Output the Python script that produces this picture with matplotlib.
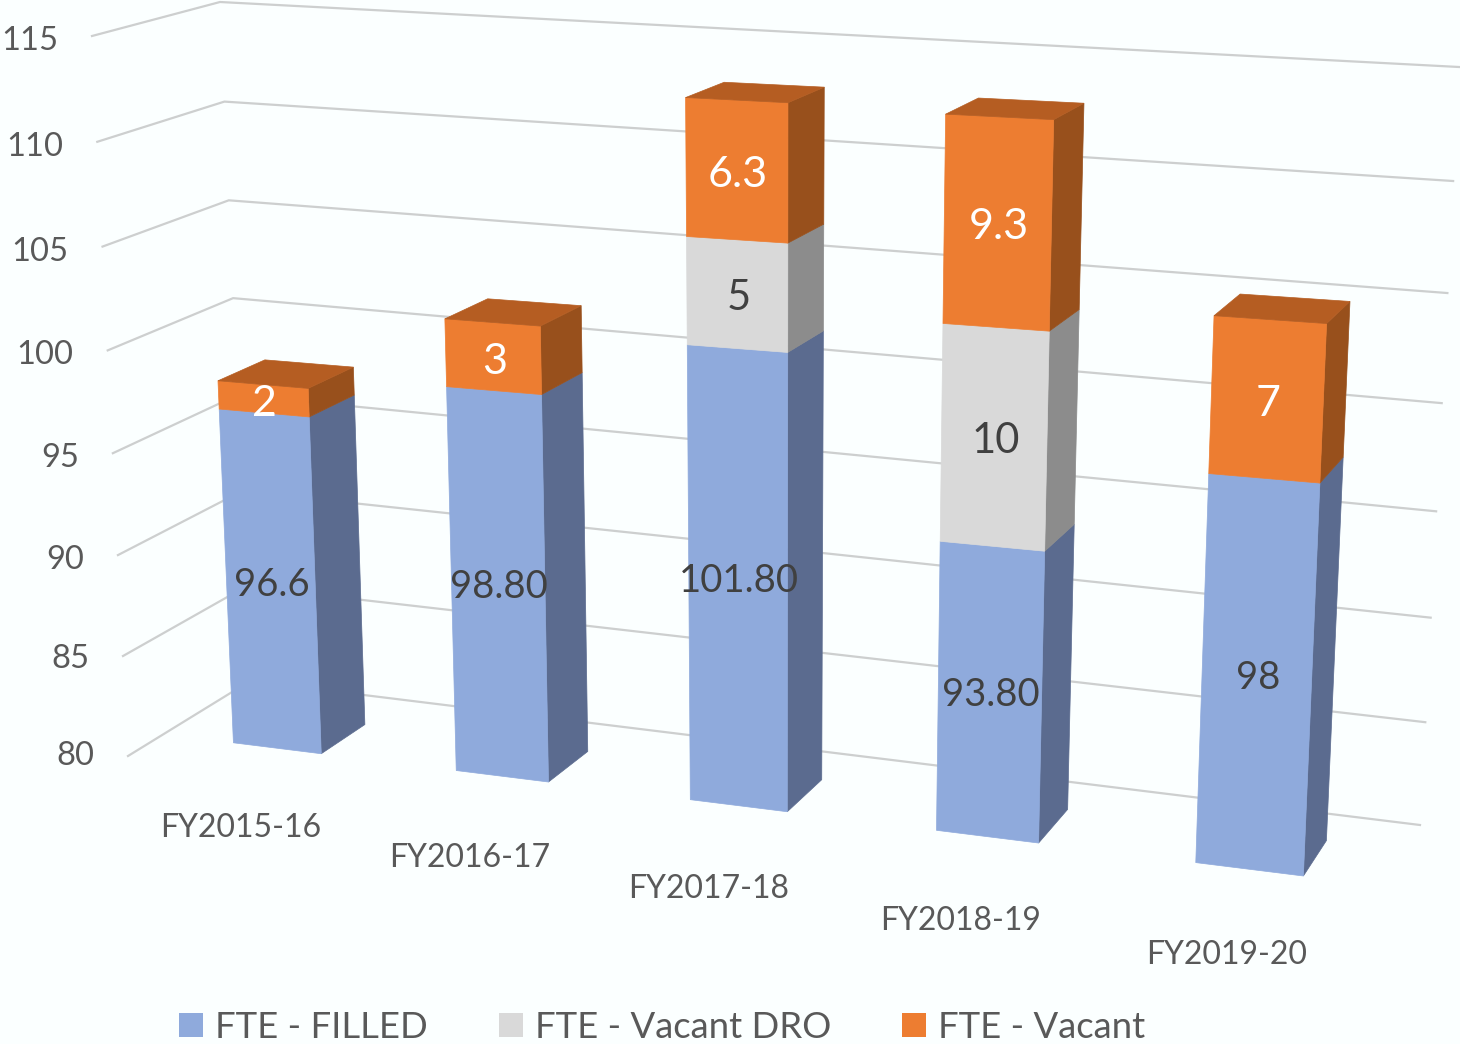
import matplotlib
matplotlib.use("Agg")
import matplotlib.pyplot as plt
import numpy as np
from matplotlib.patches import Polygon, Patch

plt.rcParams['font.family'] = ['Lato', 'DejaVu Sans']

#Adatok (drawn heights, labels as printed)
years = ["FY2015-16", "FY2016-17", "FY2017-18", "FY2018-19", "FY2019-20"]
filled = [97.0, 99.05, 101.95, 93.8, 98]
vacant_dro = [0, 0, 5, 10, 0]
vacant = [1.4, 3.25, 6.3, 9.3, 7]
filled_labels = ["96.6", "98.80", "101.80", "93.80", "98"]
dro_labels = ["", "", "5", "10", ""]
vacant_labels = ["2", "3", "6.3", "9.3", "7"]
ticks = [80, 85, 90, 95, 100, 105, 110, 115]

BG = "#fbffff"
GRID = "#cdcfcf"
W, H = 1460, 1044
HW = 0.2  # half bar width, category units


def fit(world, pix):
    # projective map world -> pixel, last element fixed to 1
    world = np.array(world, float)
    n = world.shape[1] + 1
    A, b = [], []
    for w, (px, py) in zip(world, pix):
        h = list(w) + [1]
        A.append(h + [0] * n + [-px * c for c in h[:-1]])
        A.append([0] * n + h + [-py * c for c in h[:-1]])
        b += [px, py]
    m = np.linalg.lstsq(np.array(A), np.array(b), rcond=None)[0]
    return np.append(m, 1).reshape(3, n)


def apply(m, *w):
    p = m @ np.array(list(w) + [1.0])
    return p[0] / p[2], p[1] / p[2]


def z(v):
    return (v - 80) / 10


#Kalibráció: bar coordinates (x, depth, value) -> pixels
bar_cal = [
    (-HW, 0, 80, 232, 741), (HW, 0, 80, 321, 752), (HW, 1, 80, 365, 722),
    (1 - HW, 0, 80, 456, 770), (1 + HW, 0, 80, 550, 781),
    (2 - HW, 0, 80, 691, 800), (2 + HW, 0, 80, 788, 812), (2 + HW, 1, 80, 823, 782),
    (3 - HW, 0, 80, 937, 831), (3 + HW, 0, 80, 1039, 843),
    (4 - HW, 0, 80, 1196, 863), (4 + HW, 0, 80, 1303, 876), (4 + HW, 1, 80, 1325, 843),
    (-HW, 0, 98.4, 217, 382), (HW, 0, 98.4, 307, 392), (HW, 1, 98.4, 354, 368), (-HW, 1, 98.4, 264, 360),
    (2 - HW, 0, 113.25, 686, 98), (2 + HW, 0, 113.25, 789, 104), (2 + HW, 1, 113.25, 825, 88), (2 - HW, 1, 113.25, 725, 82),
    (3 - HW, 0, 113.1, 946, 113), (3 + HW, 0, 113.1, 1054, 119), (3 + HW, 1, 113.1, 1083, 103), (3 - HW, 1, 113.1, 979, 97),
    (4 - HW, 0, 105, 1213, 315), (4 + HW, 0, 105, 1326, 323), (4 + HW, 1, 105, 1348, 300), (4 - HW, 1, 105, 1241, 293),
]
cam = fit([(c[0], c[1], z(c[2])) for c in bar_cal], [c[3:] for c in bar_cal])
left_wall = fit([(0, z(80)), (0, z(115)), (1, z(80)), (1, z(115))],
                [(128, 756), (92, 36), (250, 681), (220, 2)])
back_wall = fit([(0, z(80)), (0, z(115)), (1, z(80)), (1, z(115))],
                [(250, 681), (220, 2), (1420, 825), (1459, 67)])

fig = plt.figure(figsize=(W / 100, H / 100), dpi=100, facecolor=BG)
ax = fig.add_axes([0, 0, 1, 1])
ax.set_xlim(0, W)
ax.set_ylim(H, 0)
ax.axis("off")

#Rács és tengelyfeliratok
for t in ticks:
    pts = [apply(left_wall, 0, z(t)), apply(left_wall, 1, z(t)), apply(back_wall, 1, z(t))]
    ax.plot(*zip(*pts), color=GRID, lw=1.6, zorder=1, solid_joinstyle="miter")
    ax.text(pts[0][0] - 34, pts[0][1] + min(5, (t - 80) * 0.6), str(t), ha="right", va="center",
            fontsize=23.5, color="#595959")

#Oszlopok
series = [
    (filled, filled_labels, "#8faadc", "#5b6b8f", "#6f86b0", "#404040", 27.5, 4),
    (vacant_dro, dro_labels, "#d9d9d9", "#8c8c8c", "#ababab", "#404040", 30, 4),
    (vacant, vacant_labels, "#ed7d31", "#98501c", "#b55d22", "white", 31, 5),
]
for i in range(len(years)):
    base = 80
    xl, xr = i - HW, i + HW
    for vals, labels, front, side, top, txt, size, dy in series:
        if vals is filled:
            upper = vals[i]
        else:
            upper = base + vals[i]
        if upper == base:
            continue
        b, u = z(base), z(upper)
        f = [apply(cam, xl, 0, b), apply(cam, xr, 0, b), apply(cam, xr, 0, u), apply(cam, xl, 0, u)]
        s = [apply(cam, xr, 0, b), apply(cam, xr, 1, b), apply(cam, xr, 1, u), apply(cam, xr, 0, u)]
        ax.add_patch(Polygon(s, fc=side, ec=side, lw=0.5, zorder=3 + i))
        ax.add_patch(Polygon(f, fc=front, ec=front, lw=0.5, zorder=3 + i))
        if vals is vacant:
            tp = [apply(cam, xl, 0, u), apply(cam, xr, 0, u), apply(cam, xr, 1, u), apply(cam, xl, 1, u)]
            ax.add_patch(Polygon(tp, fc=top, ec=top, lw=0.5, zorder=3 + i))
        cx = sum(p[0] for p in f) / 4
        cy = sum(p[1] for p in f) / 4
        ax.text(cx + 1, cy + dy, labels[i], ha="center", va="center", fontsize=size, color=txt, zorder=20)
        base = upper
    #Kategória felirat
    fx, fy = apply(cam, i, 0, z(80))
    ax.text(fx - 36 + 3.25 * i, fy + 80 + 1.5 * i, years[i], ha="center", va="center",
            fontsize=23, color="#595959")

handles = [Patch(fc="#8faadc", label="FTE - FILLED"),
           Patch(fc="#d9d9d9", label="FTE - Vacant DRO"),
           Patch(fc="#ed7d31", label="FTE - Vacant")]
fs = 26.3
px = fs / 0.72
ax.legend(handles=handles, ncol=3, frameon=False, fontsize=fs, labelcolor="#595959",
          loc="lower left", bbox_to_anchor=(179 / W, 0.0), borderaxespad=0, borderpad=0,
          handlelength=24 / px, handleheight=24 / px, handletextpad=12 / px, columnspacing=71 / px)

fig.savefig("out.png", dpi=100, facecolor=BG)
